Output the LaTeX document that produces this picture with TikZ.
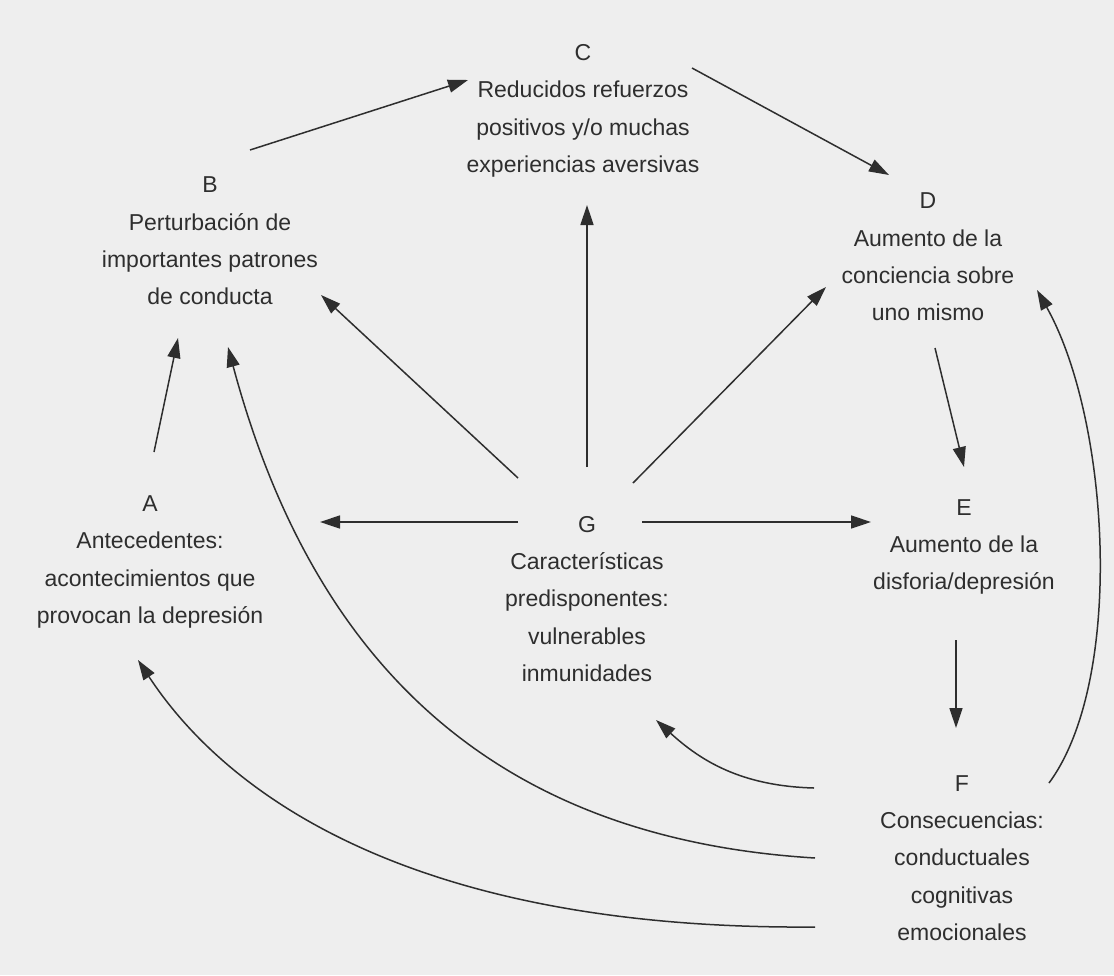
\documentclass[tikz,border=0pt]{standalone}
\usepackage{fontspec}
\setmainfont{Liberation Sans}
\usetikzlibrary{arrows.meta,calc}
\definecolor{bg}{HTML}{EEEEEE}
\definecolor{ink}{HTML}{2E2E2E}
\begin{document}
\begin{tikzpicture}[x=1pt,y=-1pt,
  lab/.style={align=center,inner sep=0pt,text=ink,font=\fontsize{23}{37.3}\selectfont},
  arr/.style={draw=ink,line width=1.5pt,-{Triangle[length=20pt,width=13pt]}}]
\fill[bg] (0,0) rectangle (1114,975);
\useasboundingbox (0,0) rectangle (1114,975);

\node[lab] (C) at (583,111) {C\\Reducidos refuerzos\\positivos y/o muchas\\experiencias aversivas};
\node[lab] (B) at (210,241) {B\\Perturbación de\\importantes patrones\\de conducta};
\node[lab] (D) at (928,257) {D\\Aumento de la\\conciencia sobre\\uno mismo};
\node[lab] (A) at (150,562) {A\\Antecedentes:\\acontecimientos que\\provocan la depresión};
\node[lab] (G) at (587,599) {G\\Características\\predisponentes:\\vulnerables\\inmunidades};
\node[lab] (E) at (964,547) {E\\Aumento de la\\disforia/depresión};
\node[lab] (F) at (962,858) {F\\Consecuencias:\\conductuales\\cognitivas\\emocionales};

% straight arrows
\draw[arr] ($(B)+(40,-91)$) -- ($(C)+(-115,-31)$);
\draw[arr] ($(C)+(109,-43)$) -- ($(D)+(-39,-82)$);
\draw[arr] ($(G)+(0,-132)$) -- ($(C)+(4,94)$);
\draw[arr] ($(G)+(-69,-121)$) -- ($(B)+(111,54)$);
\draw[arr] ($(G)+(46,-116)$) -- ($(D)+(-102,30)$);
\draw[arr] ($(G)+(-69,-77)$) -- ($(A)+(170,-40)$);
\draw[arr] ($(G)+(55,-77)$) -- ($(E)+(-93,-25)$);
\draw[arr] ($(A)+(4,-110)$) -- ($(B)+(-32,97)$);
\draw[arr] ($(D)+(7,91)$) -- ($(E)+(0,-80)$);
\draw[arr] ($(E)+(-8,93)$) -- ($(F)+(-6,-130)$);

% curved arrows from F
\draw[arr] ($(F)+(-148,-70)$) .. controls +(-74,-2) and +(44,40) .. ($(G)+(69,121)$);
\draw[arr] ($(F)+(-147,0)$) .. controls +(-295,-18) and +(92,343) .. ($(B)+(18,106)$);
\draw[arr] ($(F)+(-147,69)$) .. controls +(-395,3) and +(92,140) .. ($(A)+(-12,98)$);
\draw[arr] ($(F)+(87,-75)$) .. controls +(76,-103) and +(73,130) .. ($(D)+(109,33)$);
\end{tikzpicture}
\end{document}
